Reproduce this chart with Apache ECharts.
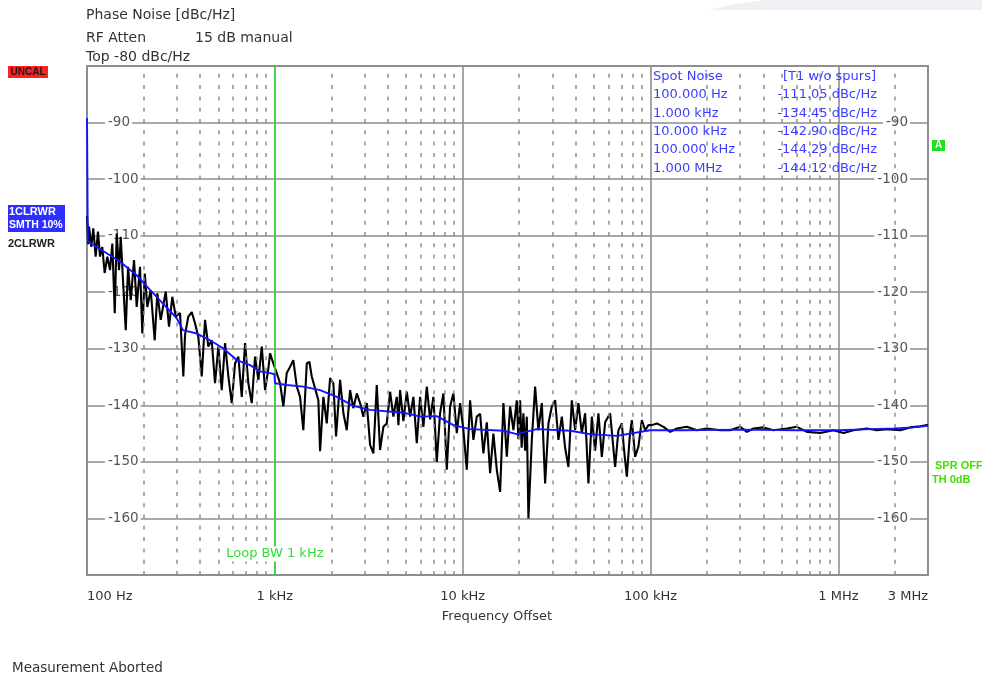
<!DOCTYPE html>
<html><head><meta charset="utf-8">
<script src="https://cdn.jsdelivr.net/npm/echarts@6.0.0/dist/echarts.min.js"></script>
<style>html,body{margin:0;padding:0;background:#fff;}#c{width:982px;height:677px;}</style>
</head><body><div id="c"></div>
<script>
const FONT = '"DejaVu Sans", sans-serif';

// ---- axis ticks ----
const xTickValues = [100, 1000, 10000, 100000, 1000000, 3000000];
const xTickLabels = ['100 Hz', '1 kHz', '10 kHz', '100 kHz', '1 MHz', '3 MHz'];
const minorGridFreqs = [200,300,400,500,600,700,800,900,
  2000,3000,4000,5000,6000,7000,8000,9000,
  20000,30000,40000,50000,60000,70000,80000,90000,
  200000,300000,400000,500000,600000,700000,800000,900000,
  2000000];
const yMin = -170, yMax = -80, yStep = 10;
const loopBwFreq = 1000;
const loopBwLabelLevel = -166.3;

// ---- trace 2 (raw, black) ----
const blackFreq = [
100, 101.5, 102.5, 105.4, 108.0, 111.2, 114.4, 117.3, 120.6, 124.2,
128.3, 132.6, 136.4, 140.5, 143.9, 148.1, 151.2, 156.1, 160.8, 165.4,
170.9, 178.0, 183.9, 191.5, 197.0, 203.0, 209.5, 218.4, 229.3, 236.8,
246.9, 262.5, 273.3, 284.6, 296.7, 312.8, 325.7, 332.6, 346.3, 361.0,
375.9, 391.5, 408.1, 425.0, 442.5, 461.3, 480.4, 500.4, 521.6, 543.2,
565.6, 589.6, 614.0, 639.4, 666.6, 694.1, 722.7, 753.4, 784.6, 817.0,
851.8, 887.0, 923.6, 943, 982, 1024, 1066, 1110, 1157, 1205,
1254, 1309, 1362, 1418, 1479, 1527, 1572, 1637, 1705, 1741,
1813, 1890, 1968, 2049, 2118, 2225, 2317, 2415, 2515, 2618,
2731, 2843, 2960, 3087, 3214, 3346, 3488, 3632, 3783, 3944,
4107, 4276, 4458, 4550, 4642, 4834, 5040, 5248, 5465, 5697,
5933, 6178, 6441, 6707, 6983, 7280, 7580, 7895, 8229, 8569,
8923, 9303, 9687, 10090, 10515, 10950, 11403, 11889, 12381, 12890,
13438, 13994, 14572, 15192, 15820, 16474, 17175, 17886, 18621, 19413,
19800, 20216, 20600, 21048, 21500, 21944, 22384, 23335, 24300, 25300,
26380, 27470, 28610, 29820, 31050, 32330, 33710, 35100, 36550, 38110,
39670, 41310, 43070, 44860, 46710, 48700, 50700, 52800, 55050, 57330,
60950, 64800, 67470, 70350, 72000, 74800, 77500, 79530, 82800, 86200,
89900, 93600, 97480, 101650, 108100, 117200, 127200, 138100, 156100, 176500,
199500, 234900, 265500, 300100, 325800, 353300, 399400, 451300, 532100, 601600,
680000, 800700, 942100, 1065000, 1204000, 1419000, 1604000, 1813000, 2135000, 2413000,
2727000, 2960000, 3000000
];
const blackVal = [
-106.5, -111.5, -108.4, -112, -108.7, -113.7, -109.3, -113.7, -112, -116.6,
-113.7, -116.1, -111.4, -123.7, -109.6, -116.1, -110.2, -119, -126.7, -115.5,
-121.4, -114.3, -122.6, -115.5, -127.3, -116.7, -122.6, -119.6, -128.5, -120.2,
-124.9, -119.9, -126.1, -120.8, -124.3, -123.7, -134.9, -127.5, -124.3, -123.5,
-125.5, -127.9, -134.9, -124.9, -129.6, -128.5, -136.1, -129.6, -137.3, -129,
-134.9, -139.6, -132.6, -131.4, -138.5, -129, -136.1, -139.6, -131.4, -135.5,
-129.6, -137.3, -133.5, -130.8, -132.6, -134.3, -136.1, -140.2, -134.3, -133.2,
-132, -136.7, -138.5, -144.4, -132.6, -132.3, -134.9, -137, -139.1, -148.1,
-138.5, -143.2, -135.2, -136.1, -145.5, -135.5, -141.4, -144.4, -137.3, -140.5,
-137.9, -139.6, -142, -139.6, -147, -148.5, -136.4, -147.9, -143.8, -143.2,
-137.6, -142, -138.5, -143.5, -137.3, -142.8, -137.6, -142, -138.5, -146.7,
-138.5, -143.8, -136.7, -142.5, -138.5, -150, -141.4, -137.9, -151.4, -140.2,
-137.9, -144.9, -139.6, -144.4, -151.4, -139.1, -146.1, -142, -141.5, -148.5,
-143, -152, -145, -151.4, -155.3, -139.6, -149.1, -140.2, -144.4, -139.1,
-146, -139.1, -147.5, -141.4, -148, -142, -160, -146.1, -136.7, -144.4,
-139.6, -153.8, -143.2, -140.2, -139.1, -146.1, -142, -147.5, -150.9, -139.1,
-144.4, -139.6, -144.9, -141.4, -153.8, -142, -148, -141.4, -149.1, -143,
-141.4, -150.9, -144.4, -143.2, -147.3, -152.6, -145.5, -142.6, -149.1, -147.3,
-142.6, -144.4, -143.5, -143.5, -143.2, -143.8, -144.7, -144.1, -143.8, -144.4,
-144.1, -144.4, -144.4, -143.8, -144.7, -144.1, -143.9, -144.4, -144.1, -143.8,
-144.7, -144.9, -144.4, -144.9, -144.4, -144.1, -144.4, -144.2, -144.4, -143.9,
-143.7, -143.5, -143.4
];

// ---- trace 1 (smoothed 10%, blue) ----
const blueFreq = [100, 101, 112.6, 127.3, 149.9, 183.9, 216.5, 253.9, 300.4, 324.5,
  383.9, 451.9, 530, 627, 738, 834, 943, 995, 1002, 1157,
  1418, 1741, 2136, 2618, 3214, 4834, 5933, 7280, 8923, 10950,
  16474, 19413, 24800, 37320, 47690, 66160, 99500, 150000, 300000, 600000,
  1000000, 1500000, 2000000, 2500000, 3000000];
const blueVal = [-89.2, -111, -112, -113.1, -114.6, -117, -119.6, -122, -124.6, -126.7,
  -127.3, -128.5, -129.9, -132, -132.9, -134, -134.3, -134.5, -136.1, -136.4,
  -136.7, -137.3, -138.5, -140.1, -140.8, -141.3, -142, -141.9, -143.5, -144.2,
  -144.5, -145.1, -144.2, -144.5, -145.1, -145.4, -144.4, -144.4, -144.3, -144.4,
  -144.4, -144.2, -144.1, -143.9, -143.6];

// ---- spot noise table ----
const spotLabels = ['100.000 Hz', '1.000 kHz', '10.000 kHz', '100.000 kHz', '1.000 MHz'];
const spotValues = [-111.05, -134.45, -142.90, -144.29, -144.12];

const chart = echarts.init(document.getElementById('c'), null, {renderer: 'canvas'});

function pairs(fs, vs) { return fs.map((f, i) => [f, vs[i]]); }
function xLabel(v) {
  for (let i = 0; i < xTickValues.length; i++) {
    if (Math.abs(Math.log10(v) - Math.log10(xTickValues[i])) < 1e-6) return xTickLabels[i];
  }
  return '';
}

const gridColor = '#8e8e8e';
const txt = (text, x, y, opt) => Object.assign({
  type: 'text', x: x, y: y, z: 100,
  style: Object.assign({text: text, fill: '#333', font: '14px ' + FONT,
    align: 'left', textAlign: 'left', verticalAlign: 'middle', textVerticalAlign: 'middle'}, opt || {})
});

const graphics = [
  {type: 'polygon', z: -10, shape: {points: [[708, 10], [735, 4], [765, 0], [982, 0], [982, 10]]}, style: {fill: '#eff0f4'}},
  txt('Phase Noise [dBc/Hz]', 86, 15),
  txt('RF Atten', 86, 38),
  txt('15 dB manual', 195, 38),
  txt('Top -80 dBc/Hz', 86, 57),
  {type: 'rect', z: 100, shape: {x: 8, y: 66, width: 40, height: 12}, style: {fill: '#ff1f1f'}},
  txt('UNCAL', 28, 72.5, {fill: '#1a1a1a', font: 'bold 10px "Liberation Sans", sans-serif', align: 'center', textAlign: 'center'}),
  {type: 'rect', z: 100, shape: {x: 8, y: 205, width: 57, height: 27}, style: {fill: '#2e2eff'}},
  txt('1CLRWR', 9, 212, {fill: '#fff', font: 'bold 11px "Liberation Sans", sans-serif'}),
  txt('SMTH 10%', 9, 225, {fill: '#fff', font: 'bold 10.5px "Liberation Sans", sans-serif'}),
  txt('2CLRWR', 8, 244, {fill: '#222', font: 'bold 11px "Liberation Sans", sans-serif'}),
  {type: 'rect', z: 100, shape: {x: 932, y: 140, width: 13, height: 11}, style: {fill: '#22dd22'}},
  txt('A', 938.5, 145.5, {fill: '#eaffea', font: 'bold 10px "Liberation Sans", sans-serif', align: 'center', textAlign: 'center'}),
  txt('SPR OFF', 935, 466, {fill: '#44dd00', font: 'bold 11px "Liberation Sans", sans-serif'}),
  txt('TH 0dB', 932, 480, {fill: '#44dd00', font: 'bold 11px "Liberation Sans", sans-serif'}),
  txt('Frequency Offset', 497, 617, {font: '13px ' + FONT, align: 'center', textAlign: 'center'}),
  txt('Measurement Aborted', 12, 668, {font: '13.5px ' + FONT}),
  txt('Spot Noise', 653, 77, {fill: '#3d3dff', font: '13px ' + FONT}),
  txt('[T1 w/o spurs]', 876, 77, {fill: '#3d3dff', font: '13px ' + FONT, align: 'right', textAlign: 'right'})
];
spotLabels.forEach((s, i) => {
  const y = 95 + i * 18.3;
  graphics.push(txt(s, 653, y, {fill: '#3d3dff', font: '13px ' + FONT}));
  graphics.push(txt(spotValues[i].toFixed(2) + ' dBc/Hz', 877, y, {fill: '#3d3dff', font: '13px ' + FONT, align: 'right', textAlign: 'right'}));
});

const yLabelAxis = (pos, margin) => ({
  type: 'value', min: yMin, max: yMax, interval: yStep, position: pos, z: 3,
  axisLine: {show: false}, axisTick: {show: false}, splitLine: {show: false},
  axisLabel: {inside: true, margin: margin, showMinLabel: false, showMaxLabel: false,
    color: '#555', fontSize: 13.5, fontFamily: FONT, backgroundColor: '#fff', padding: [1, 2, 1, 3]}
});

chart.setOption({
  animation: false,
  backgroundColor: '#fff',
  grid: {left: 87, top: 66, width: 841, height: 509, show: true, borderColor: gridColor, borderWidth: 2, backgroundColor: 'transparent'},
  xAxis: {
    type: 'log', logBase: 10, min: 100, max: 3000000,
    axisLine: {show: false}, axisTick: {show: false},
    splitLine: {show: true, lineStyle: {color: gridColor, width: 1.6}},
    minorTick: {show: false}, minorSplitLine: {show: false},
    axisLabel: {formatter: xLabel, margin: 15, color: '#333', fontSize: 13, fontFamily: FONT,
      alignMinLabel: 'left', alignMaxLabel: 'right', hideOverlap: false, showMinLabel: true, showMaxLabel: true}
  },
  yAxis: [
    {type: 'value', min: yMin, max: yMax, interval: yStep, position: 'left', z: 0,
      axisLine: {show: false}, axisTick: {show: false}, axisLabel: {show: false},
      splitLine: {show: true, lineStyle: {color: gridColor, width: 1.6}}},
    yLabelAxis('left', 18),
    yLabelAxis('right', 18)
  ],
  graphic: graphics,
  series: [
    {
      name: 'grid', type: 'line', data: [], z: 1, silent: true,
      markLine: {
        silent: true, symbol: ['none', 'none'], animation: false,
        label: {show: false},
        lineStyle: {color: gridColor, width: 1.5, type: [4, 7.3]},
        data: minorGridFreqs.map(f => ({xAxis: f})).concat([
          {xAxis: loopBwFreq, lineStyle: {color: '#30e030', width: 1.6, type: 'solid'}}
        ])
      },
      markPoint: {
        silent: true, symbol: 'rect', symbolSize: 1,
        itemStyle: {color: 'rgba(0,0,0,0)'},
        label: {show: true, position: 'inside', formatter: 'Loop BW 1 kHz', color: '#33dd33',
          fontSize: 13, fontFamily: FONT, backgroundColor: '#fff', padding: [1, 2]},
        data: [{coord: [loopBwFreq, loopBwLabelLevel]}]
      }
    },
    {
      name: '2CLRWR', type: 'line', data: pairs(blackFreq, blackVal), z: 4,
      symbol: 'none', lineStyle: {color: '#000', width: 2.1}, silent: true
    },
    {
      name: '1CLRWR SMTH 10%', type: 'line', data: pairs(blueFreq, blueVal), z: 5,
      symbol: 'none', lineStyle: {color: '#1414ff', width: 1.9}, silent: true
    }
  ]
});
</script>
</body></html>
